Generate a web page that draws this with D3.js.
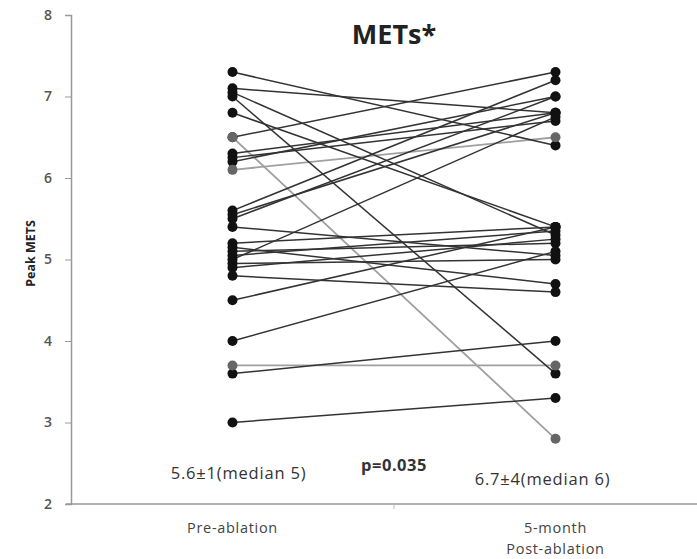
<!DOCTYPE html>
<html>
<head>
<meta charset="utf-8">
<script src="https://cdn.jsdelivr.net/npm/d3@7"></script>
<style>
  body { margin: 0; background: #fff; }
  svg { font-family: "Open Sans", sans-serif; }
</style>
</head>
<body>
<svg width="697" height="559"></svg>
<script>
// chart values
const categories = ["Pre-ablation", "5-month Post-ablation"];
const preValues  = [7.3, 7.1, 7.05, 7.0, 6.8, 6.5, 6.5, 6.3, 6.25, 6.2, 6.1, 5.6, 5.55, 5.5, 5.4,
                    5.2, 5.15, 5.1, 5.05, 5.0, 4.95, 4.9, 4.8, 4.5, 4.0, 3.7, 3.6, 3.0];
const postValues = [6.4, 6.8, 5.3, 3.6, 5.4, 2.8, 7.3, 6.8, 6.7, 7.0, 6.5, 7.2, 6.8, 7.0, 5.05,
                    5.4, 4.7, 5.2, 5.35, 6.75, 5.0, 5.25, 4.6, 5.4, 5.1, 3.7, 4.0, 3.3];
const yTicks = [2, 3, 4, 5, 6, 7, 8];
const summaries = ["5.6\u00b11(median 5)", "6.7\u00b14(median 6)"];
const pValue = "p=0.035";

const greyIdx = [5, 10, 25];   // lighter subjects in the original

const svg = d3.select("svg");
const margin = {left: 71, top: 15, bottom: 55};
const plotH = 559 - margin.top - margin.bottom;

const x = d3.scaleBand()
  .domain(categories)
  .range([71, 717]);

const y = d3.scaleLinear()
  .domain([2, 8])
  .range([margin.top + plotH, margin.top]);

const cx = c => x(c) + x.bandwidth() / 2;

// y axis
const yAxis = svg.append("g")
  .attr("transform", `translate(${margin.left},0)`)
  .call(d3.axisLeft(y).tickValues(yTicks).tickSize(6).tickPadding(13).tickFormat(d3.format("d")));
yAxis.select(".domain").attr("stroke", "#999").attr("stroke-width", 1.5);
yAxis.selectAll(".tick line").attr("stroke", "#999");
yAxis.selectAll("text").attr("fill", "#555").attr("font-size", 14).attr("font-weight", 600)
  .attr("font-family", "Open Sans");

// x axis (line only, tick between categories)
svg.append("line")
  .attr("x1", 66).attr("x2", 697)
  .attr("y1", y(2)).attr("y2", y(2))
  .attr("stroke", "#999").attr("stroke-width", 1.5);
svg.append("line")
  .attr("x1", x(categories[1])).attr("x2", x(categories[1]))
  .attr("y1", y(2)).attr("y2", y(2) + 5)
  .attr("stroke", "#bbb");

// category labels
svg.append("text")
  .attr("x", cx(categories[0])).attr("y", y(2) + 29)
  .attr("text-anchor", "middle").attr("font-size", 14.5).attr("letter-spacing", 0.7)
  .attr("fill", "#444")
  .text(categories[0]);
const lbl = svg.append("text")
  .attr("x", cx(categories[1])).attr("y", y(2) + 29)
  .attr("text-anchor", "middle").attr("font-size", 14.5).attr("letter-spacing", 0.7)
  .attr("fill", "#444");
lbl.append("tspan").attr("x", cx(categories[1])).text("5-month");
lbl.append("tspan").attr("x", cx(categories[1])).attr("dy", 21).text("Post-ablation");

// y label
svg.append("text")
  .attr("transform", `translate(35,${y(5) - 6}) rotate(-90)`)
  .attr("text-anchor", "middle").attr("font-size", 12.5).attr("font-weight", "bold")
  .attr("fill", "#222")
  .text("Peak METS");

// title
svg.append("text")
  .attr("x", 394).attr("y", 44)
  .attr("text-anchor", "middle").attr("font-size", 27).attr("font-weight", "bold")
  .attr("fill", "#222")
  .text("METs*");

// paired lines
const pairs = preValues.map((v, i) => ({pre: v, post: postValues[i], grey: greyIdx.includes(i)}));

svg.append("g").selectAll("line")
  .data(pairs.slice().sort((a, b) => b.grey - a.grey))
  .enter().append("line")
  .attr("x1", cx(categories[0])).attr("y1", d => y(d.pre))
  .attr("x2", cx(categories[1])).attr("y2", d => y(d.post))
  .attr("stroke", d => d.grey ? "#a0a0a0" : "#333")
  .attr("stroke-width", d => d.grey ? 1.8 : 1.5);

// dots, grey ones on top
const dotData = pairs.slice().sort((a, b) => a.grey - b.grey);
const dots = svg.append("g");
dots.selectAll("circle.pre")
  .data(dotData).enter().append("circle")
  .attr("class", "pre")
  .attr("cx", cx(categories[0])).attr("cy", d => y(d.pre)).attr("r", 5)
  .attr("fill", d => d.grey ? "#666" : "#111");
dots.selectAll("circle.post")
  .data(dotData).enter().append("circle")
  .attr("class", "post")
  .attr("cx", cx(categories[1])).attr("cy", d => y(d.post)).attr("r", 5)
  .attr("fill", d => d.grey ? "#666" : "#111");

// annotations
svg.append("text")
  .attr("x", cx(categories[0]) + 6).attr("y", 479)
  .attr("text-anchor", "middle").attr("font-size", 16.5).attr("letter-spacing", 0.8)
  .attr("fill", "#333")
  .text(summaries[0]);
svg.append("text")
  .attr("x", x(categories[1])).attr("y", 471)
  .attr("text-anchor", "middle").attr("font-size", 16.5).attr("font-weight", "bold")
  .attr("letter-spacing", 0.5).attr("fill", "#333")
  .text(pValue);
svg.append("text")
  .attr("x", cx(categories[1]) - 13).attr("y", 485)
  .attr("text-anchor", "middle").attr("font-size", 16.5).attr("letter-spacing", 0.8)
  .attr("fill", "#333")
  .text(summaries[1]);
</script>
</body>
</html>
